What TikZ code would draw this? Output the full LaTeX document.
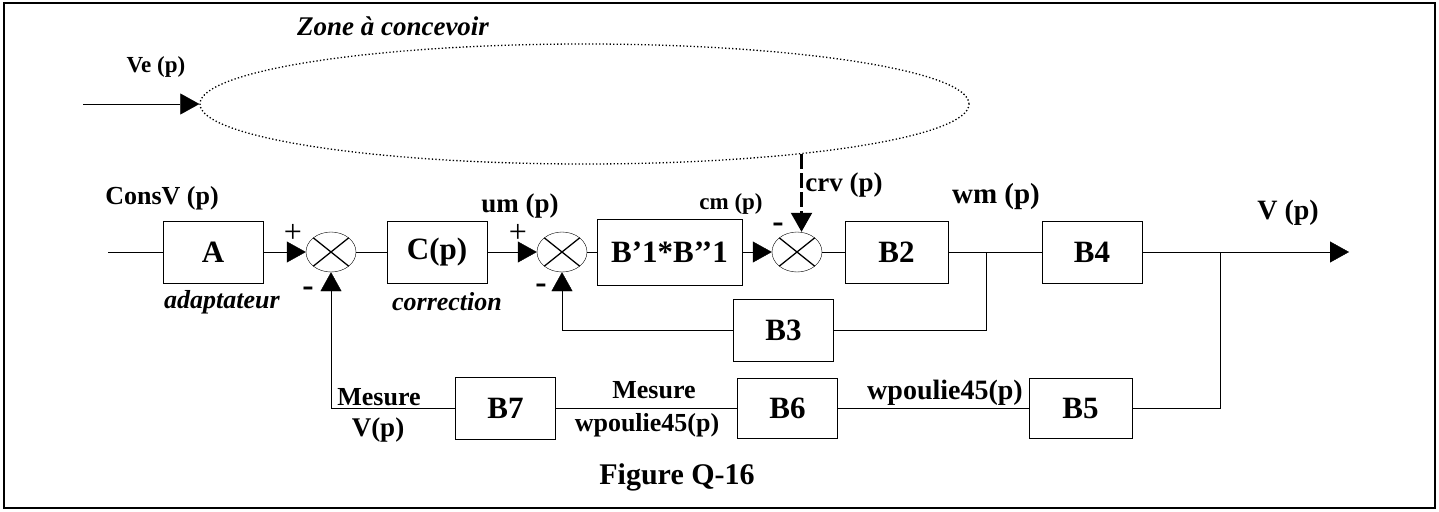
\documentclass[tikz,border=0pt]{standalone}
\usepackage{fontspec}
\setmainfont{Liberation Serif}
\usetikzlibrary{arrows.meta, positioning, shapes.geometric}
\tikzset{>={Triangle[length=19pt,width=21pt]},
    node distance=100pt, line width=1.6pt,
    block/.style={rectangle,draw,minimum width=100pt,minimum height=62pt,inner sep=0pt,
        font=\bfseries\fontsize{31}{31}\selectfont},
    sumnode/.style={ellipse,draw,minimum width=50pt,minimum height=40pt,inner sep=0pt,
        path picture={\draw[line width=1.3pt]
            (path picture bounding box.north west) -- (path picture bounding box.south east)
            (path picture bounding box.north east) -- (path picture bounding box.south west);}},
    zone/.style={ellipse,draw,line width=1.3pt,dash pattern=on 1.3pt off 2.2pt,
        minimum width=769pt,minimum height=120pt,inner sep=0pt},
    siglbl/.style={font=\bfseries\fontsize{26}{26}\selectfont,inner sep=0pt},
    itlbl/.style={font=\bfseries\itshape\fontsize{26}{26}\selectfont,inner sep=0pt},
    signlbl/.style={font=\fontsize{32}{32}\selectfont,inner sep=0pt},
    minus/.style={font=\bfseries\fontsize{34}{34}\selectfont,inner sep=0pt}}
\begin{document}
\begin{tikzpicture}[x=1pt,y=-1pt]
\useasboundingbox (0,0) rectangle (1439,511);
\draw[line width=1.5pt] (4,3) rectangle (1435,508);

% zone a concevoir
\node[zone] (zone) at (584.5,104) {};
\coordinate (ve) at (83,104);
\draw[->] (ve) -- (zone.west);

% main chain
\coordinate (in) at (108,252);
\node[block]   (A)  at (213,252)        {A};
\node[sumnode,node distance=118pt]   (s1) [right of=A]  {};
\node[block,node distance=106pt]     (C)  [right of=s1] {C(p)};
\node[sumnode,node distance=125pt]   (s2) [right of=C]  {};
\node[block,minimum width=145pt,minimum height=66pt,node distance=107.5pt] (B1) [right of=s2] {B’1*B’’1};
\node[sumnode,node distance=127.5pt] (s3) [right of=B1] {};
\node[block,minimum width=103pt,node distance=99.5pt] (B2) [right of=s3] {B2};
\node[block,node distance=195.5pt]   (B4) [right of=B2] {B4};
\coordinate (j1) at (986,252);
\coordinate (j2) at (1220,252);
\coordinate (out) at (1349,252);

% feedback blocks
\node[block]   (B3) at (783.5,330) {B3};
\node[block]   (B7) at (505.5,408) {B7};
\node[block,minimum height=60pt] (B6) at (787.5,408) {B6};
\node[block,minimum width=103pt,minimum height=60pt] (B5) at (1080.5,408) {B5};

\path[]
	(in)	edge 	[] 	node [] {} (A)
	(A)	edge 	[->] 	node [] {} (s1)
	(s1)	edge 	[] 	node [] {} (C)
	(C)	edge 	[->] 	node [] {} (s2)
	(s2)	edge 	[] 	node [] {} (B1)
	(B1)	edge 	[->] 	node [] {} (s3)
	(s3)	edge 	[] 	node [] {} (B2)
	(B2)	edge 	[] 	node [] {} (B4)
	(B4)	edge 	[->] 	node [] {} (out)
	(B5)	edge 	[] 	node [] {} (B6)
	(B6)	edge 	[] 	node [] {} (B7);
\draw (j1) |- (B3);
\draw[->] (B3) -| (s2);
\draw (j2) |- (B5);
\draw[->] (B7) -| (s1);
\draw[->,line width=2.2pt,dash pattern=on 15pt off 4pt] (zone.-13.3) -- (zone.-13.3 |- s3.north);

% labels
\node[itlbl,font=\bfseries\itshape\fontsize{27}{27}\selectfont] (zonetxt) at (393,26) {Zone à concevoir};
\node[siglbl,font=\bfseries\fontsize{23}{23}\selectfont] (velbl) at (156,67) {Ve (p)};
\node[siglbl] (conslbl) at (162,198) {ConsV (p)};
\node[itlbl] (adapt) at (222,302) {adaptateur};
\node[itlbl] (corr) at (447,302) {correction};
\node[siglbl,font=\bfseries\fontsize{27}{27}\selectfont] (umlbl) at (520,206) {um (p)};
\node[siglbl,font=\bfseries\fontsize{23}{23}\selectfont] (cmlbl) at (731,204) {cm (p)};
\node[siglbl,font=\bfseries\fontsize{27}{27}\selectfont] (crvlbl) at (844,185) {crv (p)};
\node[siglbl,font=\bfseries\fontsize{29}{29}\selectfont] (wmlbl) at (996,197) {wm (p)};
\node[siglbl,font=\bfseries\fontsize{28}{28}\selectfont] (vlbl) at (1288,213) {V (p)};
\node[signlbl] (p1) at (293,233) {+};
\node[signlbl] (p2) at (518,233) {+};
\node[minus] (m1) at (308,292) {-};
\node[minus] (m2) at (541,289) {-};
\node[minus] (m3) at (778,228) {-};
\node[siglbl] (mes1) at (379,397) {Mesure};
\node[siglbl,font=\bfseries\fontsize{27}{27}\selectfont] (vp) at (378,430) {V(p)};
\node[siglbl] (mes2) at (654,390) {Mesure};
\node[siglbl] (wp1) at (647,425) {wpoulie45(p)};
\node[siglbl,font=\bfseries\fontsize{28}{28}\selectfont] (wp2) at (945,393) {wpoulie45(p)};
\node[siglbl,font=\bfseries\fontsize{30}{30}\selectfont] (fig) at (677,477) {Figure Q-16};
\end{tikzpicture}
\end{document}
